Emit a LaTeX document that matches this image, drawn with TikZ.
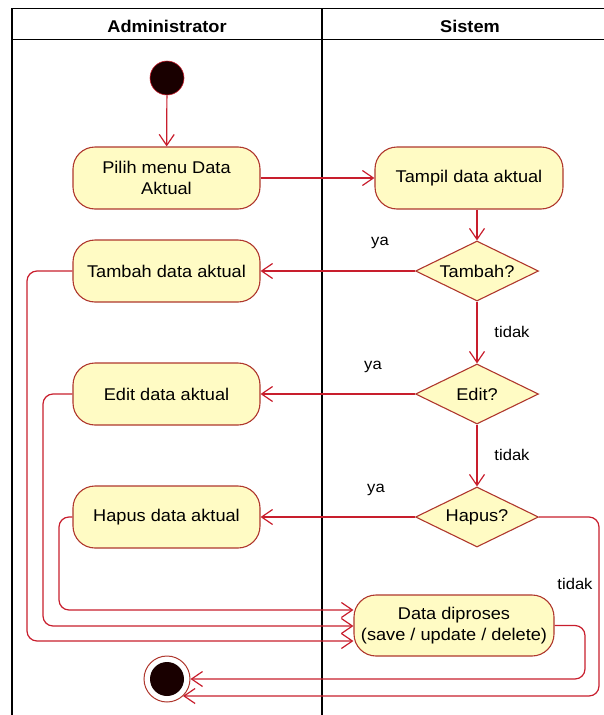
\documentclass[tikz,border=0pt]{standalone}
\usepackage{fontspec}
\setmainfont{Liberation Sans}[FakeStretch=1.07]
\usetikzlibrary{arrows.meta,shapes.geometric}

\definecolor{flowred}{RGB}{200,30,45}
\definecolor{boxedge}{RGB}{175,55,45}
\definecolor{boxfill}{RGB}{255,251,196}
\definecolor{dotfill}{RGB}{25,0,0}

\tikzset{
  lane/.style={draw=black, line width=1.2pt},
  actbox/.style={draw=boxedge, fill=boxfill, line width=1.1pt, rounded corners=22pt,
    minimum height=62pt, inner sep=0pt, align=center,
    font=\fontsize{17}{21}\selectfont},
  decision/.style={diamond, draw=boxedge, fill=boxfill, line width=1.1pt,
    minimum width=123pt, minimum height=60pt, inner sep=0pt, aspect=2,
    font=\fontsize{17}{21}\selectfont},
  flow/.style={draw=flowred, line width=1.2pt, rounded corners=10pt,
    -{Straight Barb[length=11pt,width=15pt]}},
  guard/.style={font=\fontsize{15.5}{18}\selectfont, inner sep=0pt},
  lanehead/.style={font=\fontsize{17}{20}\selectfont\bfseries, inner sep=0pt},
}

\begin{document}
\begin{tikzpicture}[x=1pt, y=-1pt]
\useasboundingbox (0,0) rectangle (603,715);

% swimlane frame
\draw[lane] (12,8.5) rectangle (625,740);
\draw[lane] (12,39.5) -- (625,39.5);
\draw[lane] (322,8.5) -- (322,740);
\node[lanehead] (hadmin) at (167,26) {Administrator};
\node[lanehead] (hsistem) at (470,26) {Sistem};

% initial and final nodes
\node[circle, draw=flowred, line width=0.6pt, fill=dotfill, minimum size=34pt, inner sep=0pt] (start) at (167,78) {};
\node[circle, draw=boxedge, line width=1pt, fill=white, minimum size=46pt, inner sep=0pt] (stop) at (167,679) {};
\node[circle, fill=dotfill, minimum size=34pt, inner sep=0pt] (stopcore) at (stop) {};

% actions
\node[actbox, minimum width=187pt] (pilih) at (166.5,178) {Pilih menu Data\\Aktual};
\node[actbox, minimum width=188pt] (tampil) at (469,178) {Tampil data aktual};
\node[actbox, minimum width=187pt] (tambah) at (166.5,271) {Tambah data aktual};
\node[actbox, minimum width=187pt] (edit) at (166.5,394) {Edit data aktual};
\node[actbox, minimum width=187pt] (hapus) at (166.5,517) {Hapus data aktual};
\node[actbox, minimum width=200pt, minimum height=61pt] (proses) at (454,625.5) {Data diproses\\(save / update / delete)};

% decisions
\node[decision] (qtambah) at (477,271) {Tambah?};
\node[decision] (qedit) at (477,394) {Edit?};
\node[decision] (qhapus) at (477,517) {Hapus?};

% guards
\node[guard] (ya1) at (380,243) {ya};
\node[guard] (ya2) at (373,367) {ya};
\node[guard] (ya3) at (376,490) {ya};
\node[guard] (tidak1) at (512,332) {tidak};
\node[guard] (tidak2) at (512,455) {tidak};
\node[guard] (tidak3) at (575,584) {tidak};

% rails for the return loops
\coordinate (railA) at (27,641);
\coordinate (railB) at (43,626);
\coordinate (railC) at (59,610);
\coordinate (railD) at (599,696);
\coordinate (railE) at (585,679);

% main flow
\draw[flow] (start) -- (pilih);
\draw[flow] (pilih.east) -- (tampil.west);
\draw[flow] (qtambah.north |- tampil.south) -- (qtambah.north);
\draw[flow] (qtambah.west) -- (tambah.east);
\draw[flow] (qtambah.south) -- (qedit.north);
\draw[flow] (qedit.west) -- (edit.east);
\draw[flow] (qedit.south) -- (qhapus.north);
\draw[flow] (qhapus.west) -- (hapus.east);

% actions into processing
\draw[flow] (tambah.west) -| (railA) -- (railA -| proses.west);
\draw[flow] (edit.west) -| (railB) -- (railB -| proses.west);
\draw[flow] (hapus.west) -| (railC) -- (railC -| proses.west);

% to the final node
\draw[flow] (qhapus.east) -| (railD) -- (stop.-47 |- railD);
\draw[flow] (proses.east) -| (railE) -- (stop.east |- railE);
\end{tikzpicture}
\end{document}
